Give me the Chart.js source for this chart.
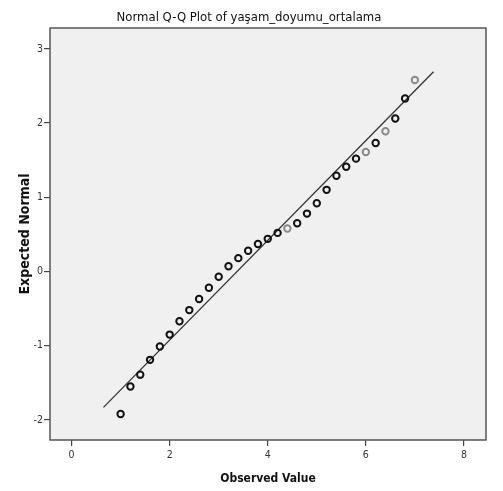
<!DOCTYPE html>
<html>
<head>
<meta charset="utf-8">
<script src="https://cdn.jsdelivr.net/npm/chart.js@4"></script>
<style>
  html, body { margin: 0; padding: 0; background: #fff; }
  #wrap { width: 503px; height: 491px; }
</style>
</head>
<body>
<div id="wrap"><canvas id="qq" width="503" height="491"></canvas></div>
<script>
// observed values (x) and expected normal quantiles (y)
const observed = [1.0, 1.2, 1.4, 1.6, 1.8, 2.0, 2.2, 2.4, 2.6, 2.8, 3.0, 3.2, 3.4, 3.6, 3.8, 4.0,
                  4.2, 4.4, 4.6, 4.8, 5.0, 5.2, 5.4, 5.6, 5.8, 6.0, 6.2, 6.4, 6.6, 6.8, 7.0];
const expected = [-1.92, -1.55, -1.39, -1.19, -1.01, -0.85, -0.67, -0.52, -0.37, -0.22, -0.07, 0.07,
                  0.18, 0.28, 0.37, 0.44, 0.52, 0.58, 0.65, 0.78, 0.92, 1.10, 1.29, 1.41, 1.52,
                  1.61, 1.73, 1.89, 2.06, 2.33, 2.58];
// reference line end points
const lineX = [0.65, 7.38];
const lineY = [-1.83, 2.69];
const xTicks = [0, 2, 4, 6, 8];
const yTicks = [-2, -1, 0, 1, 2, 3];

// points that render lighter in the original
const lightPoints = [17, 25, 27, 30];

const narrow = "'Liberation Sans Narrow', 'DejaVu Sans Condensed', 'Liberation Sans', Arial, sans-serif";

const framePlugin = {
    id: 'frame',
    beforeDatasetsDraw(chart) {
        const { ctx, chartArea: a } = chart;
        ctx.save();
        ctx.fillStyle = '#f0f0f0';
        ctx.fillRect(a.left, a.top, a.right - a.left, a.bottom - a.top);
        ctx.restore();
    },
    afterDatasetsDraw(chart) {
        const { ctx, chartArea: a } = chart;
        ctx.save();
        ctx.strokeStyle = '#555';
        ctx.lineWidth = 1.5;
        ctx.strokeRect(a.left, a.top, a.right - a.left, a.bottom - a.top);
        ctx.restore();
    }
};

const points = observed.map((x, i) => ({ x: x, y: expected[i] }));
const linePts = lineX.map((x, i) => ({ x: x, y: lineY[i] }));

new Chart(document.getElementById('qq'), {
    type: 'scatter',
    data: {
        datasets: [
            {
                label: 'line',
                data: linePts,
                showLine: true,
                borderColor: '#333',
                borderWidth: 1.3,
                pointRadius: 0,
                order: 2
            },
            {
                label: 'observed',
                data: points,
                pointRadius: 3.2,
                borderWidth: 2,
                backgroundColor: 'rgba(0,0,0,0)',
                borderColor: ctx => lightPoints.includes(ctx.dataIndex) ? '#8a8a8a' : '#111',
                order: 1
            }
        ]
    },
    options: {
        responsive: false,
        animation: false,
        layout: { padding: { left: 0, right: 5, top: 0, bottom: 0 } },
        plugins: {
            legend: { display: false },
            tooltip: { enabled: false },
            title: {
                display: true,
                text: 'Normal Q-Q Plot of yaşam_doyumu_ortalama',
                color: '#111',
                font: { family: narrow, size: 13, weight: 'normal' },
                padding: { top: 10, bottom: 2.4 }
            }
        },
        scales: {
            x: {
                type: 'linear',
                min: -0.44,
                max: 8.45,
                afterBuildTicks: s => { s.ticks = xTicks.map(v => ({ value: v })); },
                afterFit: s => { s.height = 51; },
                grid: { drawOnChartArea: false, drawTicks: true, tickLength: 6, color: '#444', lineWidth: 1.2 },
                border: { display: false },
                ticks: { color: '#333', font: { family: narrow, size: 10.5 }, padding: 3 },
                title: {
                    display: true,
                    text: 'Observed Value',
                    color: '#111',
                    font: { family: narrow, size: 12, weight: 'bold' },
                    padding: { top: 0, bottom: 5 }
                }
            },
            y: {
                type: 'linear',
                min: -2.27,
                max: 3.28,
                afterBuildTicks: s => { s.ticks = yTicks.map(v => ({ value: v })); },
                afterFit: s => { s.width = 50; },
                grid: { drawOnChartArea: false, drawTicks: true, tickLength: 6, color: '#444', lineWidth: 1.2 },
                border: { display: false },
                ticks: { color: '#333', font: { family: narrow, size: 10.5 }, padding: 1 },
                title: {
                    display: true,
                    text: 'Expected Normal',
                    color: '#111',
                    font: { family: narrow, size: 14, weight: 'bold' },
                    padding: { top: 17, bottom: 0 }
                }
            },
            // empty right-hand spacer so the title centres like the original
            yRight: {
                type: 'linear',
                position: 'right',
                min: -2.27,
                max: 3.28,
                afterFit: s => { s.width = 12; },
                grid: { display: false },
                border: { display: false },
                ticks: { display: false }
            }
        }
    },
    plugins: [framePlugin]
});
</script>
</body>
</html>
